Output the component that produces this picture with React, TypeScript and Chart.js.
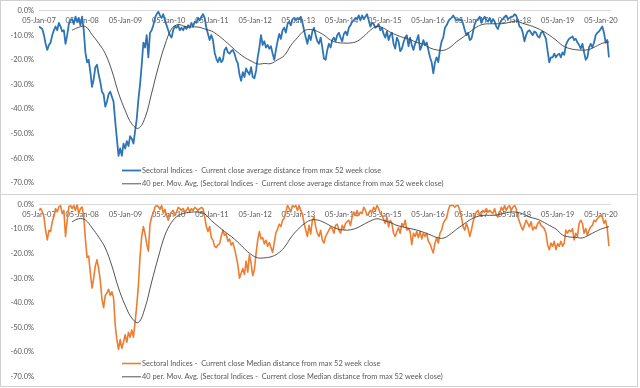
import React, { useEffect, useRef } from "react";
import { Chart, registerables } from "chart.js";

Chart.register(...registerables);

// ---- data -------------------------------------------------------------
// Biweekly observations starting 05-Jan-2007 (values in %)
const START_YEAR = 2007; // 05-Jan-07
const STEP_DAYS = 14;
const MA_START_INDEX = 20;
const MA_STEP = 4;

const avgDistance: number[] = [
  // 2007
  -6.5, -7, -7.5, -10, -13.5, -16, -14, -13, -10, -8, -6.5, -8, -5, -6.5, -8.5, -8, -13.5, -10, -5.5, -4, -3.5, -5.5, -2.5, -4.5, -3, -6,
  // 2008
  -2.5, -8, -17, -21, -20, -25, -31, -28, -23, -22, -26, -29, -33, -34, -39, -37, -34, -33, -35, -37, -45, -52, -59, -56, -59, -54, -56,
  // 2009
  -53, -55, -51, -52, -54, -49, -44, -36, -30, -22, -13, -15, -10, -19, -9, -8, -6, -3, -1.5, -0.5, -2, -3, -1.5, -4, -6, -8,
  // 2010
  -10, -11, -8, -6.5, -7, -6, -8, -7, -8, -6.5, -7.5, -6, -7, -5, -6.5, -4.5, -5, -3, -4, -2.5, -1.5, -3, -7, -9.5, -12, -10,
  // 2011
  -12, -17, -19.5, -21, -19, -21, -20, -16, -15, -17, -17.5, -16.5, -16, -17.5, -20, -21.5, -26, -28.5, -25, -27, -23.5, -25, -26, -23, -27, -27.5, -24.5,
  // 2012
  -19, -15, -10, -14, -12.5, -15, -14, -15.5, -14.5, -17.5, -20, -16, -12.5, -9.5, -11.5, -8, -7, -9, -5.5, -4.5, -6, -3.5, -3, -4, -3,
  // 2013
  -3.5, -2.5, -5, -8, -11, -13.5, -10, -12, -8.5, -7, -10, -12.5, -13.5, -11, -15, -19.5, -20, -16, -13.5, -15, -12, -11, -12.5, -10, -9,
  // 2014
  -11, -12.5, -9.5, -8.5, -10, -7, -6, -4.5, -4, -3, -3.5, -2, -4, -2, -3.5, -2.5, -1.5, -4, -6.5, -5, -5.5, -7, -6.5, -5.5, -8, -7,
  // 2015
  -9.5, -11, -8.5, -12, -10, -9, -13.5, -15.5, -11, -12.5, -16.5, -15.5, -13, -11, -10, -14.5, -11, -14, -16, -13.5, -12, -10, -16, -14.5, -12, -14, -13,
  // 2016
  -16, -19, -21, -25.5, -21, -19, -21, -16, -12.5, -11, -7, -6, -4.5, -3.5, -3, -2, -3, -4, -3.5, -4, -3.5, -5.5, -8, -10, -9, -12,
  // 2017
  -11.5, -8.5, -5.5, -4, -3.5, -2.5, -5, -3.5, -2.5, -4, -4.5, -3, -5, -3.5, -4.5, -6.5, -7.5, -5.5, -4, -3.5, -2.5, -2, -3.5, -3, -2.5, -2.5, -1.5,
  // 2018
  -2, -4, -6.5, -7, -9, -12.5, -10, -8.5, -8, -9, -10, -8.5, -9, -10.5, -11, -9, -8.5, -10, -11.5, -16.5, -21, -19, -19, -17.5, -19,
  // 2019
  -18, -17.5, -19, -17, -18, -14, -12.5, -11.5, -11, -10.5, -12, -11.5, -13, -14, -15.5, -13.5, -17, -20, -19, -15, -13.5, -15, -13, -10, -9, -8.5, -7.5,
  // 2020
  -6.5, -9, -13, -12, -19,
];

// 40 per. moving average of the average series, sampled every 4th observation from obs. 20
const avgMovingAvg: number[] = [
  -8, -6.8, -6.5, -9.8, -13.3, -17.5, -24.5, -33.5, -40.5, -46, -47.8, -43.5, -33.5, -23, -14, -7.5, -5.7, -6.5, -6.7, -6.7, -7.5,
  -8.3, -10, -12.2, -14.6, -17, -19, -20.5, -21.7, -21.5, -21.5, -20, -18.3, -14.2, -11, -8.3, -7.7, -8.5, -10, -12, -13, -13.2, -13.2, -12.5, -10.5, -8,
  -6.4, -7.2, -8.8, -10, -11, -11.8, -13, -13.7, -15.2, -16, -16.2, -15, -12.7, -10.8, -8.7, -6.8, -5.6, -5.4, -5.4, -5.3, -4.8, -4.3, -5.2, -6, -7,
  -8.3, -10, -12, -14.2, -15.4, -15.9, -16.1, -15.8, -14.6, -13.3, -12.8,
];

const medianDistance: number[] = [
  // 2007
  -2.4, -1.7, -3, -5, -10.5, -14.4, -10.5, -11, -7, -5, -1.7, -3, -1, -0.4, -3.7, -2.4, -13, -6.4, -1, -0.4, -1.7, -0.4, -2.4, 0, -3.7, -1.7,
  // 2008
  -1, -5, -14, -21.5, -21, -28, -34, -30, -25, -22.5, -26, -31, -38.5, -42, -37, -36, -34.5, -37, -35.5, -38, -49, -55, -59, -55, -58.5, -56, -53,
  // 2009
  -56, -52, -54, -51, -54, -48, -41, -33, -21, -13, -9, -12, -16, -19, -8, -5, -3.5, -1, -0.4, -0.8, -2, -0.4, -3.5, -2, -4.5, -6.4,
  // 2010
  -4, -3, -2.4, -4.5, -3, -1.2, -1.7, -2.4, -1.7, -3, -2.4, -1.2, -3, -1.7, -2.4, -1.2, -1.7, -2.4, -1.7, -1.2, -1.7, -5, -9, -11, -9, -13.5,
  // 2011
  -14.5, -17, -17.5, -16.5, -16, -13, -10.5, -12.5, -12, -15, -14, -16.5, -15.5, -18, -21, -24.5, -30, -28, -26, -28.5, -23, -27.5, -20.5, -24, -29, -26.5, -20,
  // 2012
  -14.5, -11, -14, -13.5, -16, -14.5, -17, -15.5, -17.5, -19.5, -15.5, -11.5, -10, -8, -9, -6.5, -5.5, -3, -0.4, -1.7, -3, -0.4, -1, -0.4, -2.4,
  // 2013
  -0.4, -2.4, -4, -7.7, -10.4, -13, -8.5, -12, -6.4, -5, -9, -11.7, -13, -10.5, -14.4, -15.7, -13, -11.7, -10.4, -9.1, -9.8, -11.7, -8.5, -8, -10.4,
  // 2014
  -11.7, -8.5, -10, -7.7, -7, -6.4, -8.5, -5.1, -3.1, -4.4, -2.4, -4.4, -3.1, -3.7, -1.1, -2.4, -4.4, -3.7, -2.4, -3.1, -1.1, -2.4, -0.4, -1.7, -3.7, -4.4,
  // 2015
  -6, -7.7, -5.1, -9.1, -6.4, -7.7, -11.7, -13, -11, -9.5, -11.7, -7.7, -9, -6.4, -10.4, -9.8, -11, -16.3, -11.7, -13, -11, -13.5, -11, -14, -11.7, -13, -11.7,
  // 2016
  -15, -16, -18, -19.7, -15.7, -13.5, -15.7, -11.7, -10.4, -7.7, -6.4, -5.5, -2.4, -0.4, -0.4, -0.4, -1.1, -0.4, -0.4, -2.4, -5.1, -9.1, -10.4, -7.7, -9.8, -13,
  // 2017
  -10.4, -7, -4.4, -3.1, -2.4, -4.4, -3.7, -2.4, -3.1, -1.7, -3.1, -2.4, -3.1, -3.7, -1.7, -4.4, -5.1, -3.7, -1.1, -2.4, -0.4, -2.4, -1.1, -0.4, -2.4, -1.1, -0.4,
  // 2018
  -1.7, -5.1, -7, -9, -10.4, -8.5, -6.4, -7.7, -9.1, -7, -10.4, -9.1, -9.8, -7.7, -7, -8.5, -9.1, -9.8, -11.7, -16.5, -18.4, -15.7, -17, -15, -18.4,
  // 2019
  -16, -17, -15, -17, -15.7, -10.4, -11.7, -10.4, -11, -9.8, -14.4, -11.7, -13, -7.7, -6.4, -7.7, -11.7, -9.8, -12.5, -10.4, -9.1, -8.5, -6.4, -7, -5.7, -5.1, -4.4,
  // 2020
  -5.1, -7.7, -6.4, -10, -17,
];

const medianMovingAvg: number[] = [
  -7, -5.8, -6.3, -9.5, -13.2, -17.7, -25, -34, -41, -46.2, -48, -42, -31.5, -21.5, -12.5, -7.3, -4.5, -3.5, -3.1, -3.1, -3.8,
  -6.5, -8.8, -11, -13, -15.3, -18, -20.3, -21.7, -21.7, -21.3, -20, -17.5, -13.5, -10.3, -7.9, -6.4, -6.3, -7.3, -8.7, -9.9, -10.4, -10.3, -9.5, -8.1, -6.7,
  -5.8, -6.5, -7.3, -8.5, -9.2, -9.8, -10.4, -11.3, -12.3, -13.4, -13.7, -12.2, -10.1, -8.2, -6.3, -5, -4.4, -4.4, -4.3, -3.7, -3.1, -3.1, -3.8, -5.1, -5.8,
  -7, -8.5, -10, -12.4, -13.2, -13.4, -13.6, -12.4, -11, -9.8, -9,
];

const yearTicks: number[] = [2007, 2008, 2009, 2010, 2011, 2012, 2013, 2014, 2015, 2016, 2017, 2018, 2019, 2020];
const yTickValues: number[] = [0, -10, -20, -30, -40, -50, -60, -70];

const labelAvg = "Sectoral Indices -  Current close average distance from max 52 week close";
const labelAvgMA = "40 per. Mov. Avg. (Sectoral Indices -  Current close average distance from max 52 week close)";
const labelMed = "Sectoral Indices -  Current close Median distance from max 52 week close";
const labelMedMA = "40 per. Mov. Avg. (Sectoral Indices -  Current close Median distance from max 52 week close)";

// ---- helpers ----------------------------------------------------------
const yearAt = (i: number) => START_YEAR + (i * STEP_DAYS) / 365.25;
const toPoints = (vals: number[]) => vals.map((v, i) => ({ x: yearAt(i), y: v }));
const toMAPoints = (vals: number[]) =>
  vals.map((v, k) => ({ x: yearAt(MA_START_INDEX + k * MA_STEP), y: v }));

const FONT = "Lato, 'Liberation Sans', sans-serif";
const TEXT = "#595959";

const panelLegend = {
  id: "panelLegend",
  afterDraw(chart: any, _args: any, opts: any) {
    const { ctx } = chart;
    ctx.save();
    ctx.font = `${opts.size}px ${FONT}`;
    ctx.textBaseline = "middle";
    ctx.textAlign = "left";
    chart.data.datasets.forEach((ds: any, k: number) => {
      const y = opts.y + k * opts.rowGap;
      ctx.strokeStyle = ds.borderColor;
      ctx.lineWidth = ds.borderWidth;
      ctx.beginPath();
      ctx.moveTo(opts.x, y);
      ctx.lineTo(opts.x + opts.lineLen, y);
      ctx.stroke();
      ctx.fillStyle = TEXT;
      ctx.fillText(ds.label, opts.x + opts.lineLen + opts.gap, y);
    });
    ctx.restore();
  },
};

function makeConfig(
  series: number[],
  ma: number[],
  color: string,
  width: number,
  label: string,
  maLabel: string,
  pad: { top: number; bottom: number },
  legendY: number
): any {
  return {
    type: "line",
    data: {
      datasets: [
        {
          label,
          data: toPoints(series),
          borderColor: color,
          borderWidth: width,
          pointRadius: 0,
          tension: 0,
          borderJoinStyle: "round",
          order: 1,
        },
        {
          label: maLabel,
          data: toMAPoints(ma),
          borderColor: "#404040",
          borderWidth: 0.9,
          pointRadius: 0,
          tension: 0.4,
          order: 0,
        },
      ],
    },
    plugins: [panelLegend],
    options: {
      animation: false,
      responsive: true,
      maintainAspectRatio: false,
      devicePixelRatio: 1,
      layout: { padding: { left: 0, right: 27, top: pad.top, bottom: pad.bottom } },
      plugins: {
        legend: { display: false },
        tooltip: { enabled: false },
        panelLegend: { x: 121, y: legendY, rowGap: 13.3, lineLen: 19, gap: 1, size: 7.4 },
      },
      scales: {
        x: {
          type: "linear",
          min: START_YEAR,
          max: 2020.21,
          position: { y: 0 },
          grid: { display: false, drawTicks: false },
          border: { display: true, color: "#d9d9d9", width: 1 },
          afterBuildTicks: (scale: any) => {
            scale.ticks = yearTicks.map((v) => ({ value: v }));
          },
          ticks: {
            autoSkip: false,
            maxRotation: 0,
            padding: 6,
            color: TEXT,
            font: { family: FONT, size: 7.5 },
            callback: (v: number) => `05-Jan-${String(Math.round(v) % 100).padStart(2, "0")}`,
          },
        },
        y: {
          type: "linear",
          min: -70,
          max: 0,
          grid: { display: false, drawTicks: false },
          border: { display: false },
          afterFit: (scale: any) => {
            scale.width = 38;
          },
          afterBuildTicks: (scale: any) => {
            scale.ticks = yTickValues.map((v) => ({ value: v }));
          },
          ticks: {
            padding: 5,
            color: TEXT,
            font: { family: FONT, size: 7.5 },
            callback: (v: number) => `${v.toFixed(1)}%`,
          },
        },
      },
    },
  };
}

function Panel({ config, top, height }: { config: any; top: number; height: number }) {
  const ref = useRef<HTMLCanvasElement | null>(null);
  useEffect(() => {
    if (!ref.current) return;
    const chart = new Chart(ref.current, config);
    return () => chart.destroy();
  }, [config]);
  return (
    <div
      style={{
        position: "absolute",
        left: 0,
        top,
        width: 638,
        height,
        boxSizing: "border-box",
        border: "1px solid #d0d0d0",
        background: "#fff",
      }}
    >
      <div style={{ position: "relative", width: 636, height: height - 2 }}>
        <canvas ref={ref} />
      </div>
    </div>
  );
}

const topConfig = makeConfig(avgDistance, avgMovingAvg, "#2E75B6", 1.8, labelAvg, labelAvgMA, { top: 8.5, bottom: 11 }, 169.5);
const bottomConfig = makeConfig(medianDistance, medianMovingAvg, "#ED7D31", 1.6, labelMed, labelMedMA, { top: 7, bottom: 8.3 }, 168.5);

export default function App() {
  return (
    <div style={{ position: "absolute", left: 0, top: 0, width: 640, height: 388, background: "#fff" }}>
      <Panel config={topConfig} top={0} height={195} />
      <Panel config={bottomConfig} top={194} height={193} />
    </div>
  );
}
